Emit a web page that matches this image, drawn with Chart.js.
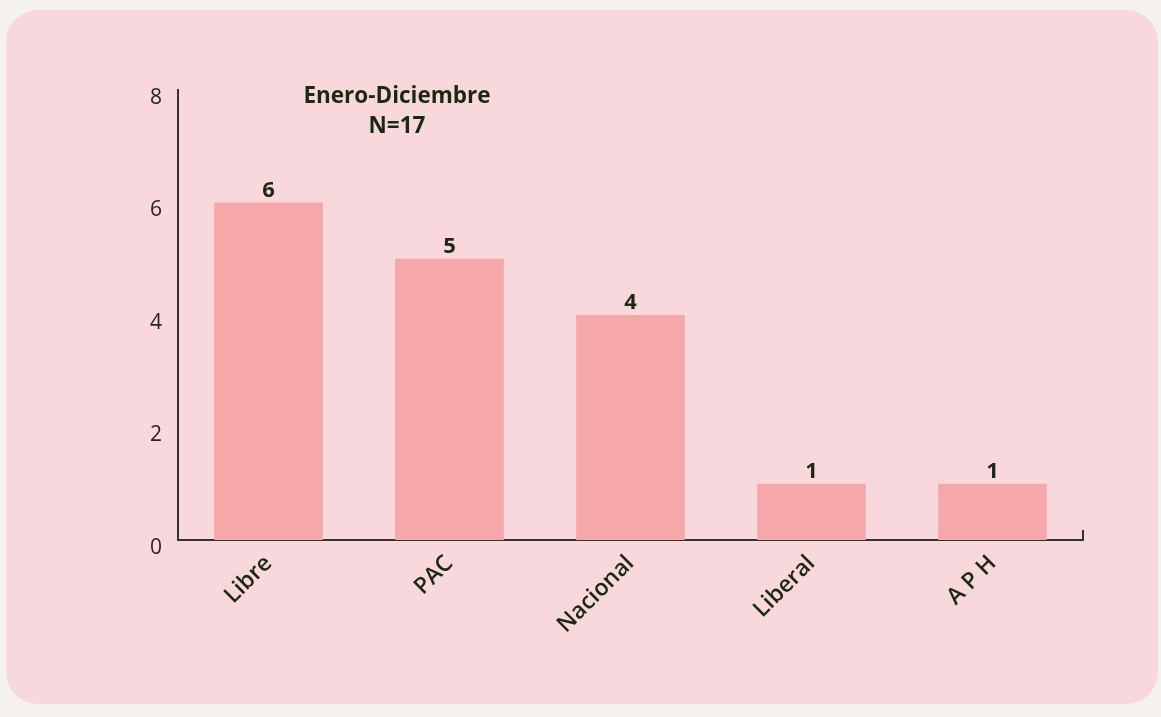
<!DOCTYPE html>
<html>
<head>
<meta charset="utf-8">
<script src="https://cdn.jsdelivr.net/npm/chart.js@4.4.1/dist/chart.umd.min.js"></script>
<style>
  html, body { margin: 0; padding: 0; background: #f4f1ef; }
  #wrap { position: relative; width: 1161px; height: 717px; overflow: hidden; }
  #panel {
    position: absolute; left: 6px; top: 10px; width: 1152px; height: 694px;
    background: #f9d8dd; border-radius: 32px;
  }
  canvas { position: absolute; left: 0; top: 0; }
</style>
</head>
<body>
<div id="wrap">
  <div id="panel"></div>
  <canvas id="chart" width="1161" height="717"></canvas>
</div>
<script>
// Data
const partidos = ['Libre', 'PAC', 'Nacional', 'Liberal', 'A P H'];
const casos = [6, 5, 4, 1, 1];
const titulo = ['Enero-Diciembre', 'N=17'];

const textColor = '#1c2912';
const axisColor = '#33352a';

// Value labels above the bars and the title inside the plot
const labelsPlugin = {
  id: 'labels',
  afterDatasetsDraw(chart) {
    const ctx = chart.ctx;
    const meta = chart.getDatasetMeta(0);
    ctx.save();
    ctx.fillStyle = textColor;
    ctx.textAlign = 'center';
    ctx.textBaseline = 'bottom';
    ctx.font = 'bold 22px "Open Sans"';
    meta.data.forEach((bar, i) => {
      ctx.fillText(String(casos[i]), bar.x, bar.y - 1);
    });

    ctx.textBaseline = 'middle';
    ctx.font = 'bold 22.5px "Open Sans"';
    ctx.fillText(titulo[0], 397, 97);
    ctx.fillText(titulo[1], 397, 127);

    // small closing tick at the end of the x axis
    const area = chart.chartArea;
    ctx.strokeStyle = axisColor;
    ctx.lineWidth = 2;
    ctx.beginPath();
    ctx.moveTo(area.right, area.bottom);
    ctx.lineTo(area.right, area.bottom - 10);
    ctx.stroke();
    ctx.restore();
  }
};

new Chart(document.getElementById('chart'), {
  type: 'bar',
  data: {
    labels: partidos,
    datasets: [{
      data: casos,
      backgroundColor: '#f5a7a9',
      borderWidth: 0,
      categoryPercentage: 1,
      barPercentage: 0.6
    }]
  },
  options: {
    responsive: false,
    animation: false,
    layout: { padding: { top: 90, right: 78, left: 0, bottom: 0 } },
    plugins: { legend: { display: false }, tooltip: { enabled: false } },
    scales: {
      x: {
        grid: { display: false },
        border: { color: axisColor, width: 2 },
        ticks: {
          color: textColor,
          font: { family: '"Open Sans"', size: 23, weight: '600' },
          maxRotation: 45,
          minRotation: 45,
          padding: 2
        },
        afterFit(scale) { scale.height = 177; }
      },
      y: {
        min: 0,
        max: 8,
        grid: { display: false },
        border: { color: axisColor, width: 2 },
        ticks: {
          stepSize: 2,
          color: '#26261f',
          font: { family: '"Open Sans"', size: 21 },
          padding: 8,
          labelOffset: 8
        },
        afterFit(scale) { scale.width = 178; }
      }
    }
  },
  plugins: [labelsPlugin]
});
</script>
</body>
</html>
